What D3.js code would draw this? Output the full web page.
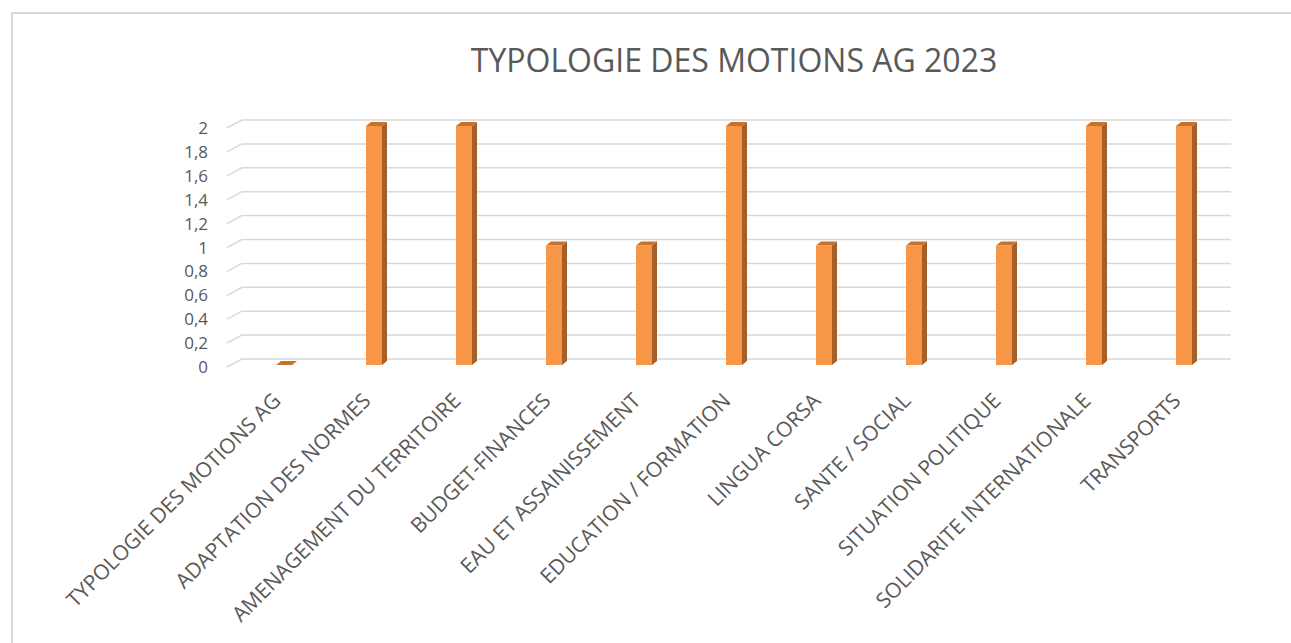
<!DOCTYPE html>
<html>
  <head>
    <meta charset="utf-8" />
    <script src="https://cdn.jsdelivr.net/npm/d3@7"></script>
    <style>
        body { margin: 0; background: #fff; }
        text { font-family: "Open Sans", sans-serif; fill: #595959; }
    </style>
  </head>
  <body>
    <svg width="1291" height="643"></svg>

    <script type="text/javascript">
        var categories = [
            "TYPOLOGIE DES MOTIONS AG",
            "ADAPTATION DES NORMES",
            "AMENAGEMENT DU TERRITOIRE",
            "BUDGET-FINANCES",
            "EAU ET ASSAINISSEMENT",
            "EDUCATION / FORMATION",
            "LINGUA CORSA",
            "SANTE / SOCIAL",
            "SITUATION POLITIQUE",
            "SOLIDARITE INTERNATIONALE",
            "TRANSPORTS"
        ];
        var values = [0, 2, 2, 1, 1, 2, 1, 1, 1, 2, 2];
        var yTicks = [0, 0.2, 0.4, 0.6, 0.8, 1, 1.2, 1.4, 1.6, 1.8, 2];
        var title = "TYPOLOGIE DES MOTIONS AG 2023";

        // 3d offsets
        var gdx = 15, gdy = -8;   // floor depth for gridlines
        var bdx = 5, bdy = -4;    // bar depth

        var svg = d3.select("svg");

        // chart border
        svg.append("rect")
            .attr("x", 12).attr("y", 13)
            .attr("width", 1290).attr("height", 640)
            .attr("fill", "none")
            .attr("stroke", "#d9d9d9")
            .attr("stroke-width", 2);

        svg.append("text")
            .attr("x", 734)
            .attr("y", 72)
            .attr("text-anchor", "middle")
            .style("font-size", "32px")
            .text(title);

        var x = d3.scaleBand()
            .domain(categories)
            .range([239, 1229]);

        var y = d3.scaleLinear()
            .domain([0, 2])
            .range([367, 128]);

        var fmt = function(d) { return String(+d.toFixed(1)).replace(".", ","); };

        // gridlines (front diagonal + back wall line)
        var grid = svg.append("g").attr("class", "grid");
        yTicks.forEach(function(t) {
            grid.append("path")
                .attr("d", "M" + 227 + "," + y(t) +
                           "L" + (227 + gdx) + "," + (y(t) + gdy) +
                           "L" + 1231 + "," + (y(t) + gdy))
                .attr("fill", "none")
                .attr("stroke", "#d9d9d9")
                .attr("stroke-width", 1.5);
        });

        // y labels
        svg.append("g").selectAll("text")
            .data(yTicks)
            .enter()
            .append("text")
            .attr("x", 208)
            .attr("y", function(d) { return y(d) + 6; })
            .attr("text-anchor", "end")
            .style("font-size", "17px")
            .text(fmt);

        // bars
        var bw = 16;
        var bars = svg.append("g").selectAll("g")
            .data(categories)
            .enter()
            .append("g")
            .attr("transform", function(d) {
                return "translate(" + (x(d) + x.bandwidth() / 2 - bw / 2) + ",0)";
            });

        var yb = function(v) { return y(v) - 2; };

        bars.append("path") // side
            .attr("d", function(d, i) {
                var v = values[i], t = yb(v), b = yb(0);
                if (v === 0) return "";
                return "M" + bw + "," + t + "L" + (bw + bdx) + "," + (t + bdy) +
                       "L" + (bw + bdx) + "," + (b + bdy) + "L" + bw + "," + b + "Z";
            })
            .attr("fill", "#a55f29");

        bars.append("path") // top
            .attr("d", function(d, i) {
                var t = yb(values[i]);
                return "M0," + t + "L" + bdx + "," + (t + bdy) +
                       "L" + (bw + bdx) + "," + (t + bdy) + "L" + bw + "," + t + "Z";
            })
            .attr("fill", "#c5722f");

        bars.append("rect") // front
            .attr("x", 0)
            .attr("y", function(d, i) { return yb(values[i]); })
            .attr("width", bw)
            .attr("height", function(d, i) { return yb(0) - yb(values[i]); })
            .attr("fill", "#f79646");

        // x labels
        svg.append("g").selectAll("text")
            .data(categories)
            .enter()
            .append("text")
            .attr("text-anchor", "end")
            .attr("transform", function(d) {
                return "translate(" + (x(d) + x.bandwidth() / 2 - 2) + ",402) rotate(-45)";
            })
            .style("font-size", "21px")
            .text(function(d) { return d; });
    </script>
  </body>
</html>
